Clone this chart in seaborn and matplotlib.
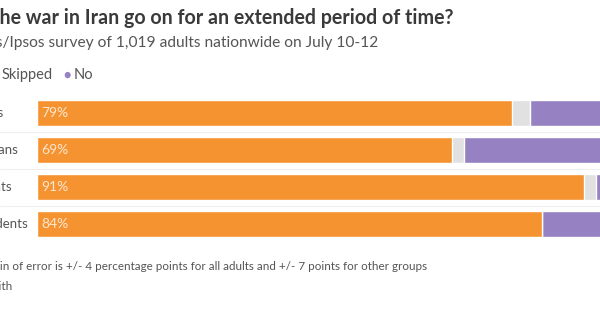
import matplotlib
matplotlib.use("Agg")
import matplotlib.pyplot as plt
import seaborn as sns
import pandas as pd

# Data
groups = ["All adults", "Republicans", "Democrats", "Independents"]
yes = [79, 69, 91, 84]
skipped = [3, 2, 2, 0]
no = [18, 29, 7, 16]

title = "Should the war in Iran go on for an extended period of time?"
subtitle = "Reuters/Ipsos survey of 1,019 adults nationwide on July 10-12"
note = "Note: Margin of error is +/- 4 percentage points for all adults and +/- 7 points for other groups"
credit = "By A. Smith"

c_yes, c_skip, c_no = "#F59331", "#E1E1E1", "#9682C2"
c_text = "#555555"

sns.set_theme(style="white")
plt.rcParams["font.family"] = ["Lato", "DejaVu Sans"]

df = pd.DataFrame({"group": groups, "yes": yes, "skipped": skipped, "no": no})
df["yes_skip"] = df["yes"] + df["skipped"]
df["total"] = df["yes_skip"] + df["no"]

W, H = 600, 315
fig = plt.figure(figsize=(6, 3.15), dpi=100)


def fx(px):
    return px / W


def fy(py):
    return 1 - py / H


# axes runs past the right edge (the chart is cropped)
ax = fig.add_axes([fx(37), fy(242.5), fx(601), 148 / H])

bh = 26 / 37
for col, c in [("total", c_no), ("yes_skip", c_skip), ("yes", c_yes)]:
    sns.barplot(data=df, x=col, y="group", color=c, width=bh, orient="h",
                edgecolor="white", linewidth=1, saturation=1, ax=ax)

ax.set_xlim(0, 100)
ax.set_ylim(3.5, -0.5)
ax.axis("off")

for i, v in enumerate(df["yes"]):
    ax.text(0.65, i, f"{v}%", color="#FDE7D0", fontsize=10, va="center", ha="left")

# group labels (left part cropped)
for i, g in enumerate(groups):
    fig.text(fx(-51), fy(113 + 37 * i), g, color=c_text, fontsize=9.5, va="center", ha="left")

# row separators
for i in range(3):
    fig.add_artist(plt.Line2D([0, 1], [fy(131.5 + 37 * i)] * 2, color="#EEEEEE", lw=0.8))

fig.text(fx(-73), fy(18), title, fontsize=14.1, fontweight="bold", color="#3a3a3a", va="center", ha="left")
fig.text(fx(-50), fy(43), subtitle, fontsize=11.2, color=c_text, va="center", ha="left")

# legend
ly = fy(75)
fig.text(fx(-50), ly, "\u25CF", color=c_yes, fontsize=9, va="center")
fig.text(fx(-40), ly, "Yes", color=c_text, fontsize=10.5, va="center")
fig.text(fx(-9), ly, "\u25CF", color=c_skip, fontsize=9, va="center")
fig.text(fx(2), ly, "Skipped", color=c_text, fontsize=10.5, va="center")
fig.text(fx(63), ly, "\u25CF", color=c_no, fontsize=9, va="center")
fig.text(fx(74), ly, "No", color=c_text, fontsize=10.5, va="center")

fig.text(fx(-59), fy(266), note, fontsize=8.4, color=c_text, va="center", ha="left")
fig.text(fx(-48), fy(286), credit, fontsize=8.5, color=c_text, va="center", ha="left")

fig.savefig("out.png", dpi=100)
